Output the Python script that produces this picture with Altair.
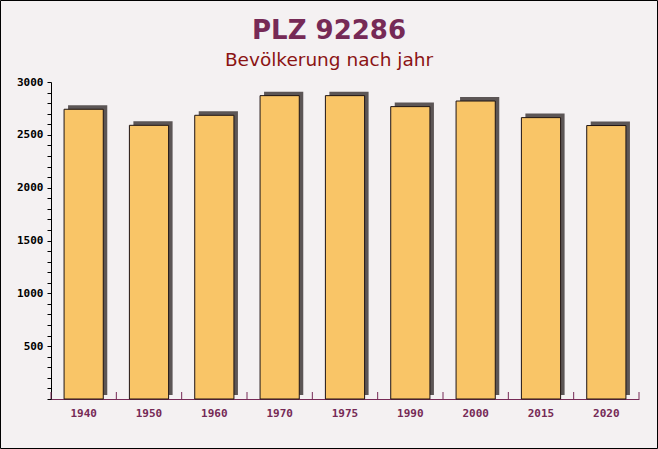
import altair as alt
import pandas as pd

years = ["1940", "1950", "1960", "1970", "1975", "1990", "2000", "2015", "2020"]
population = [2742, 2590, 2685, 2871, 2871, 2767, 2820, 2663, 2588]

title_text = "PLZ 92286"
subtitle_text = "Bevölkerung nach jahr"
y_tick_values = list(range(0, 3001, 100))

df = pd.DataFrame({"year": years, "pop": population})

W, H = 588, 317
PAD = {"left": 51, "top": 82, "right": 19, "bottom": 50}

purple = "#762a56"
xscale = alt.Scale(paddingInner=0, paddingOuter=0)
yscale = alt.Scale(domain=[0, 3000])

x_enc = alt.X(
    "year:N",
    sort=years,
    scale=xscale,
    title=None,
    axis=alt.Axis(
        labelAngle=0,
        ticks=False,
        domainColor=purple,
        labelColor=purple,
        labelFont="DejaVu Sans Mono",
        labelFontWeight="bold",
        labelFontSize=11,
        labelPadding=8,
    ),
)
y_enc = alt.Y(
    "pop:Q",
    scale=yscale,
    title=None,
    axis=alt.Axis(
        values=y_tick_values,
        labelExpr="(datum.value % 500 == 0 && datum.value > 0) ? datum.label : ''",
        format="d",
        grid=False,
        domainColor="#000000",
        tickColor="#000000",
        tickSize=4,
        labelColor="#000000",
        labelFont="DejaVu Sans Mono",
        labelFontWeight="bold",
        labelFontSize=11,
        labelPadding=4,
    ),
)

base = alt.Chart(df)

shadow = base.mark_bar(
    width=alt.RelativeBandSize(0.6),
    color="#5c5656",
    xOffset=4,
    x2Offset=4,
    yOffset=-4,
    y2Offset=-2,
).encode(x=x_enc, y=y_enc)

bars = base.mark_bar(
    width=alt.RelativeBandSize(0.6),
    color="#f9c567",
    stroke="#1e1414",
    strokeWidth=1,
).encode(x=x_enc, y=y_enc)

ticks = base.mark_rule(color=purple, strokeWidth=1).encode(
    x=alt.X("year:N", sort=years, scale=xscale, bandPosition=0),
    y=alt.value(H),
    y2=alt.value(H - 7),
)
end_tick = base.transform_filter(alt.datum.year == years[-1]).mark_rule(
    color=purple, strokeWidth=1
).encode(
    x=alt.X("year:N", sort=years, scale=xscale, bandPosition=1),
    y=alt.value(H),
    y2=alt.value(H - 7),
)

frame = alt.Chart(alt.Data(values=[{"a": 1}])).mark_rect(
    fill=None, stroke="#000000", strokeWidth=1
).encode(
    x=alt.value(-PAD["left"] + 0.5),
    x2=alt.value(W + PAD["right"] - 0.5),
    y=alt.value(-PAD["top"] + 0.5),
    y2=alt.value(H + PAD["bottom"] - 0.5),
)

chart = (
    alt.layer(shadow, bars, ticks, end_tick, frame)
    .properties(
        width=W,
        height=H,
        padding=PAD,
        autosize=alt.AutoSizeParams(type="none"),
        title=alt.TitleParams(
            title_text,
            subtitle=subtitle_text,
            anchor="middle",
            frame="bounds",
            font="DejaVu Sans",
            fontSize=26,
            fontWeight="bold",
            color=purple,
            subtitleFont="DejaVu Sans",
            subtitleFontSize=18.5,
            subtitleColor="#8b1414",
            subtitlePadding=7,
            offset=-69,
        ),
    )
    .configure(background="#f4f1f2")
    .configure_view(stroke=None)
)

chart.save("out.html", embed_options={"renderer": "svg", "actions": False})
